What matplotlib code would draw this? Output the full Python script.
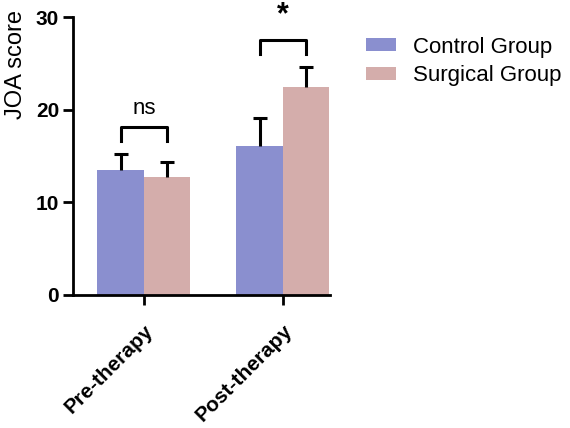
import numpy as np
import matplotlib.pyplot as plt
import matplotlib.transforms as mtransforms

plt.rcParams['font.family'] = ['Liberation Sans', 'DejaVu Sans']

groups = ['Pre-therapy', 'Post-therapy']
series = ['Control Group', 'Surgical Group']
control_mean = [13.5, 16.1]
control_err = [1.7, 3.0]
surgical_mean = [12.7, 22.4]
surgical_err = [1.7, 2.2]
sig_labels = ['ns', '*']

colors = ['#8a8fcf', '#d4adab']

fig = plt.figure(figsize=(5.7, 4.28), dpi=100)
ax = fig.add_axes([0.128, 0.311, 0.451, 0.649])

ind = np.arange(len(groups))
width = 0.335

for k, (means, errs) in enumerate([(control_mean, control_err),
                                    (surgical_mean, surgical_err)]):
    x = ind + (k - 0.5) * width
    ax.bar(x, means, width, color=colors[k], label=series[k])
    eb = ax.errorbar(x, means, yerr=[np.zeros(len(errs)), errs], fmt='none',
                     ecolor='black', elinewidth=2.2, capsize=5, capthick=2.2)
    # only the upper cap
    eb[1][0].set_visible(False)

# significance brackets
tops = [max(c + ce, s + se) for c, ce, s, se in
        zip(control_mean, control_err, surgical_mean, surgical_err)]
for i, lab in enumerate(sig_labels):
    y = tops[i] + 2.9
    x1, x2 = ind[i] - width/2, ind[i] + width/2
    ax.plot([x1, x1, x2, x2], [y - 1.5, y, y, y - 1.5], color='black', lw=2.2,
            clip_on=False)
    if lab == '*':
        ax.text(ind[i], y + 1.1, lab, ha='center', va='bottom', fontsize=22,
                fontweight='bold', clip_on=False)
    else:
        ax.text(ind[i], y + 0.9, lab, ha='center', va='bottom', fontsize=16)

ax.set_xlim(-0.51, 1.34)
ax.set_ylim(0, 30)
ax.set_yticks([0, 10, 20, 30])
ax.set_xticks(ind)
ax.set_xticklabels(groups, rotation=45, ha='right', rotation_mode='anchor',
                   fontweight='bold', fontsize=15)
shift = mtransforms.ScaledTranslation(-5 / 72, -2 / 72, fig.dpi_scale_trans)
for lbl in ax.get_xticklabels():
    lbl.set_transform(lbl.get_transform() + shift)
for lbl in ax.get_yticklabels():
    lbl.set_fontweight('bold')
    lbl.set_fontsize(15)
ax.set_ylabel('JOA score', fontsize=17)
ax.yaxis.set_label_coords(-0.18, 0.83)

ax.spines['top'].set_visible(False)
ax.spines['right'].set_visible(False)
ax.spines['left'].set_linewidth(2)
ax.spines['bottom'].set_linewidth(2)
ax.tick_params(width=2, length=7, direction='out')
ax.tick_params(axis='y', pad=3)
ax.tick_params(axis='x', pad=12)

ax.legend(loc='upper left', bbox_to_anchor=(1.14, 0.93), frameon=False,
          fontsize=16, handlelength=1.35, handleheight=0.55, labelspacing=0.35,
          handletextpad=0.75, borderpad=0, borderaxespad=0)

plt.savefig('out.png', dpi=100)
